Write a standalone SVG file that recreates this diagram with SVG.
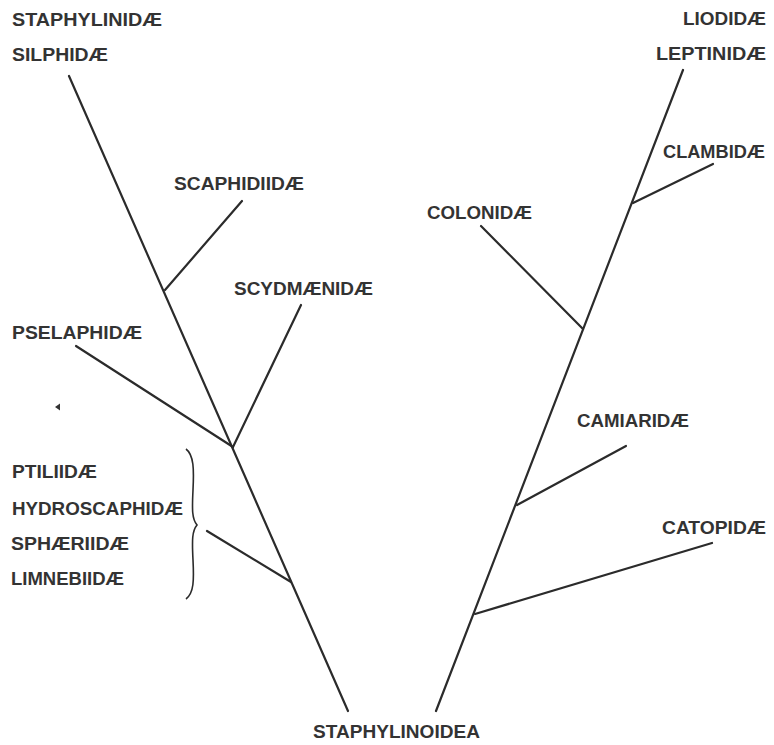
<svg xmlns="http://www.w3.org/2000/svg" width="774" height="745" viewBox="0 0 774 745">
<style>
.e{stroke:#2b2b2b;stroke-width:2.2;fill:none;stroke-linecap:round}
.b{stroke:#2b2b2b;stroke-width:1.6;fill:none}
.t{font-family:"Liberation Sans",Arial,sans-serif;font-weight:bold;font-size:18px;fill:#333}
</style>
<rect width="774" height="745" fill="#fff"/>
<g id="connectors">
<line class="e" x1="69" y1="76" x2="348" y2="711"/>
<line class="e" x1="165" y1="290" x2="242" y2="201"/>
<line class="e" x1="233" y1="447" x2="301" y2="305"/>
<line class="e" x1="76" y1="346" x2="233" y2="447"/>
<line class="e" x1="207" y1="531" x2="291" y2="582"/>
<line class="e" x1="683" y1="70" x2="436" y2="711"/>
<line class="e" x1="633" y1="203" x2="713" y2="164"/>
<line class="e" x1="481" y1="226" x2="583" y2="329"/>
<line class="e" x1="517" y1="505" x2="626" y2="446"/>
<line class="e" x1="475" y1="614" x2="712" y2="543"/>
<path id="brace" class="b" d="M186,449 C194,455 194,470 193,490 C192,510 192,519 197,525 C192,531 192,540 193,560 C194,580 194,593 186,599"/>
<polygon points="55,407 60,403.5 60,410.5" fill="#333"/>
</g>
<g id="n-staphylinidae"><text class="t" x="12" y="26" textLength="150" lengthAdjust="spacingAndGlyphs">STAPHYLINIDÆ</text></g>
<g id="n-silphidae"><text class="t" x="12" y="61" textLength="96" lengthAdjust="spacingAndGlyphs">SILPHIDÆ</text></g>
<g id="n-scaphidiidae"><text class="t" x="174" y="190" textLength="130" lengthAdjust="spacingAndGlyphs">SCAPHIDIIDÆ</text></g>
<g id="n-scydmaenidae"><text class="t" x="234" y="295" textLength="139" lengthAdjust="spacingAndGlyphs">SCYDMÆNIDÆ</text></g>
<g id="n-pselaphidae"><text class="t" x="12" y="339" textLength="130" lengthAdjust="spacingAndGlyphs">PSELAPHIDÆ</text></g>
<g id="n-ptiliidae"><text class="t" x="12" y="478" textLength="85" lengthAdjust="spacingAndGlyphs">PTILIIDÆ</text></g>
<g id="n-hydroscaphidae"><text class="t" x="12" y="515" textLength="171" lengthAdjust="spacingAndGlyphs">HYDROSCAPHIDÆ</text></g>
<g id="n-sphaeriidae"><text class="t" x="11" y="550" textLength="118" lengthAdjust="spacingAndGlyphs">SPHÆRIIDÆ</text></g>
<g id="n-limnebiidae"><text class="t" x="11" y="585" textLength="113" lengthAdjust="spacingAndGlyphs">LIMNEBIIDÆ</text></g>
<g id="n-liodidae"><text class="t" x="683" y="25" textLength="83" lengthAdjust="spacingAndGlyphs">LIODIDÆ</text></g>
<g id="n-leptinidae"><text class="t" x="656" y="60" textLength="110" lengthAdjust="spacingAndGlyphs">LEPTINIDÆ</text></g>
<g id="n-clambidae"><text class="t" x="663" y="158" textLength="102" lengthAdjust="spacingAndGlyphs">CLAMBIDÆ</text></g>
<g id="n-colonidae"><text class="t" x="427" y="219" textLength="105" lengthAdjust="spacingAndGlyphs">COLONIDÆ</text></g>
<g id="n-camiaridae"><text class="t" x="577" y="427" textLength="112" lengthAdjust="spacingAndGlyphs">CAMIARIDÆ</text></g>
<g id="n-catopidae"><text class="t" x="662" y="534" textLength="104" lengthAdjust="spacingAndGlyphs">CATOPIDÆ</text></g>
<g id="n-staphylinoidea"><text class="t" x="313" y="738" textLength="167" lengthAdjust="spacingAndGlyphs">STAPHYLINOIDEA</text></g>
</svg>
